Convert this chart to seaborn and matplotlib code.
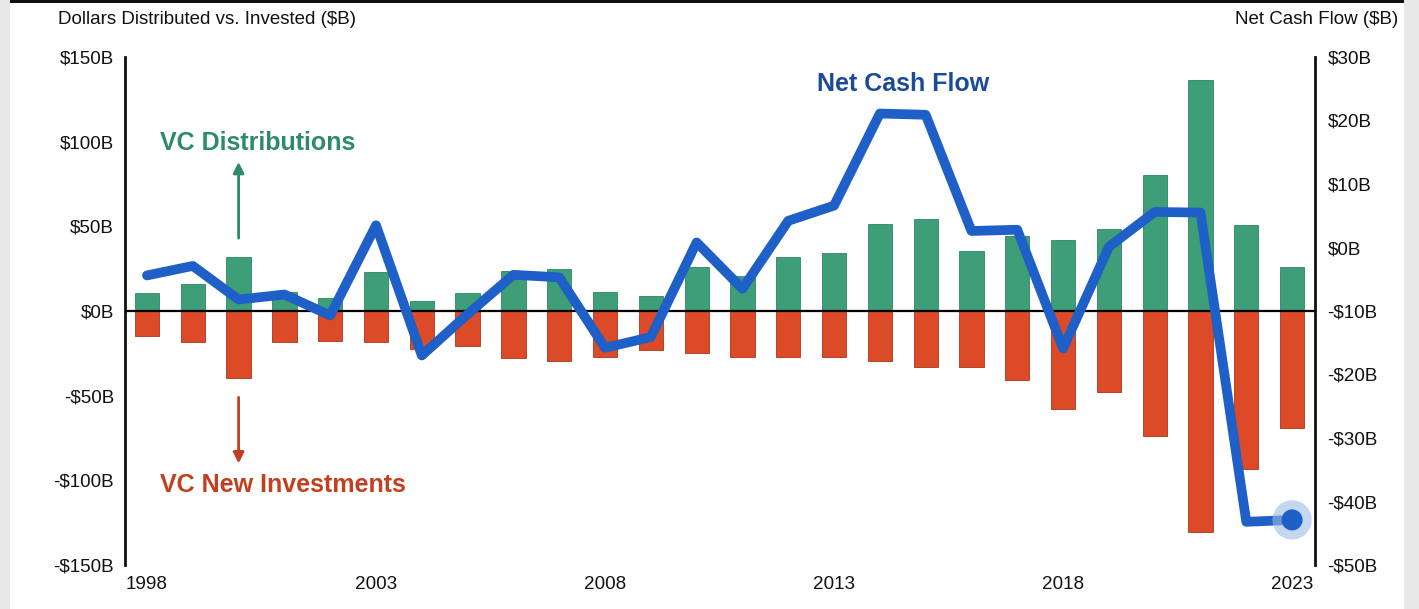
import matplotlib
matplotlib.use("Agg")
import matplotlib.pyplot as plt
from matplotlib.patches import Rectangle
from matplotlib.ticker import FixedLocator, FuncFormatter
import numpy as np
import pandas as pd
import seaborn as sns

# ---- data ($B) ----
years = list(range(1998, 2024))
distributions = [10.8, 15.8, 32.0, 11.4, 7.5, 23.2, 6.0, 10.4, 23.6, 25.0,
                 11.0, 8.9, 25.8, 20.5, 31.7, 34.4, 51.4, 54.3, 35.4, 44.5,
                 42.0, 48.3, 80.3, 136.4, 50.8, 26.2]
new_investments = [-14.8, -18.5, -39.8, -18.5, -18.0, -18.5, -22.6, -20.7, -27.6, -29.5,
                   -27.0, -22.8, -24.6, -27.0, -27.4, -27.4, -29.5, -33.2, -32.9, -40.9,
                   -58.0, -47.6, -73.7, -130.7, -93.5, -68.9]
net_cash_flow = [-4.4, -2.9, -8.2, -7.4, -10.7, 3.5, -17.0, -10.5, -4.3, -4.7,
                 -15.8, -14.1, 0.8, -6.5, 4.2, 6.6, 21.1, 20.9, 2.6, 2.8,
                 -15.9, 0.1, 5.6, 5.5, -43.2, -42.9]
year_ticks = [1998, 2003, 2008, 2013, 2018, 2023]
left_ticks = [-150, -100, -50, 0, 50, 100, 150]
right_ticks = [-50, -40, -30, -20, -10, 0, 10, 20, 30]

df = pd.DataFrame({"year": years, "dist": distributions,
                   "inv": new_investments, "net": net_cash_flow})

GREEN = "#3d9e78"
RED = "#dc4a27"
BLUE = "#1f5fc8"
FONT = ["Liberation Sans", "DejaVu Sans"]

sns.set_theme(style="white")
plt.rcParams["font.family"] = FONT

fig = plt.figure(figsize=(14.19, 6.09), dpi=100)
fig.patch.set_facecolor("white")
# frame decoration around the slide
fig.patches.append(Rectangle((0, 0), 10 / 1419, 1, transform=fig.transFigure,
                             facecolor="#e8e8e8", edgecolor="none", zorder=0))
fig.patches.append(Rectangle((1404 / 1419, 0), 15 / 1419, 1, transform=fig.transFigure,
                             facecolor="#e8e8e8", edgecolor="none", zorder=0))
fig.patches.append(Rectangle((10 / 1419, 1 - 3 / 609), 1394 / 1419, 3 / 609,
                             transform=fig.transFigure, facecolor="#111111",
                             edgecolor="none", zorder=0))

ax = fig.add_axes([125 / 1419, 1 - 565 / 609, 1190 / 1419, 508 / 609])
ax.set_facecolor("none")

sns.barplot(data=df, x="year", y="dist", native_scale=True, width=0.53,
            color=GREEN, saturation=1, edgecolor="#2f8563", linewidth=0.6, ax=ax)
sns.barplot(data=df, x="year", y="inv", native_scale=True, width=0.53,
            color=RED, saturation=1, edgecolor="#a8361d", linewidth=0.6, ax=ax)
ax.axhline(0, color="black", lw=1.6, zorder=3)

ax.set_xlim(1997.52, 2023.5)
ax.set_ylim(-150, 150)
ax.yaxis.set_major_locator(FixedLocator(left_ticks))
ax.yaxis.set_major_formatter(FuncFormatter(
    lambda v, p: f"-${abs(v):.0f}B" if v < 0 else f"${v:.0f}B"))
ax.xaxis.set_major_locator(FixedLocator(year_ticks))
ax.xaxis.set_major_formatter(FuncFormatter(lambda v, p: f"{int(round(v))}"))
ax.set_xlabel("")
ax.set_ylabel("")
ax.tick_params(axis="y", length=0, pad=8, labelsize=13.6, colors="#111111")
ax.tick_params(axis="x", length=0, pad=8, labelsize=13.6, colors="#111111")
for s in ["top", "bottom", "right"]:
    ax.spines[s].set_visible(False)
ax.spines["left"].set_color("#111111")
ax.spines["left"].set_linewidth(2)

# net cash flow on the secondary axis
ax2 = ax.twinx()
sns.lineplot(data=df, x="year", y="net", color=BLUE, lw=7,
             solid_joinstyle="round", solid_capstyle="round", ax=ax2, zorder=5)
last = df.iloc[-1]
ax2.scatter([last["year"]], [last["net"]], s=800, color="#9fbde6", alpha=0.6,
            zorder=6, edgecolor="none")
ax2.scatter([last["year"]], [last["net"]], s=230, color=BLUE, zorder=7,
            edgecolor="none")
ax2.set_ylim(-50, 30)
ax2.set_xlim(1997.52, 2023.5)
ax2.yaxis.set_major_locator(FixedLocator(right_ticks))
ax2.yaxis.set_major_formatter(FuncFormatter(
    lambda v, p: f"-${abs(v):.0f}B" if v < 0 else f"${v:.0f}B"))
ax2.set_ylabel("")
ax2.tick_params(axis="y", length=0, pad=9, labelsize=13.6, colors="#111111")
for s in ["top", "bottom", "left"]:
    ax2.spines[s].set_visible(False)
ax2.spines["right"].set_color("#111111")
ax2.spines["right"].set_linewidth(2)

# axis titles
fig.text(58 / 1419, 1 - 20 / 609, "Dollars Distributed vs. Invested ($B)",
         ha="left", va="center", fontsize=13.5, color="#111111")
fig.text(1398 / 1419, 1 - 20 / 609, "Net Cash Flow ($B)",
         ha="right", va="center", fontsize=13.5, color="#111111")

# series callouts
ax.text(1998.28, 99, "VC Distributions", ha="left", va="center",
        fontsize=18, fontweight="bold", color="#2e8b69")
ax.annotate("", xy=(2000, 88), xytext=(2000, 43),
            arrowprops=dict(arrowstyle="-|>", color="#2e8b69", lw=2,
                            mutation_scale=16, shrinkA=0, shrinkB=0))
ax.text(1998.28, -103, "VC New Investments", ha="left", va="center",
        fontsize=18, fontweight="bold", color="#c2401f")
ax.annotate("", xy=(2000, -90), xytext=(2000, -51),
            arrowprops=dict(arrowstyle="-|>", color="#c2401f", lw=2,
                            mutation_scale=16, shrinkA=0, shrinkB=0))
ax.text(2012.63, 134, "Net Cash Flow", ha="left", va="center",
        fontsize=18, fontweight="bold", color="#1b4c9a")

fig.savefig("out.png", dpi=100)
